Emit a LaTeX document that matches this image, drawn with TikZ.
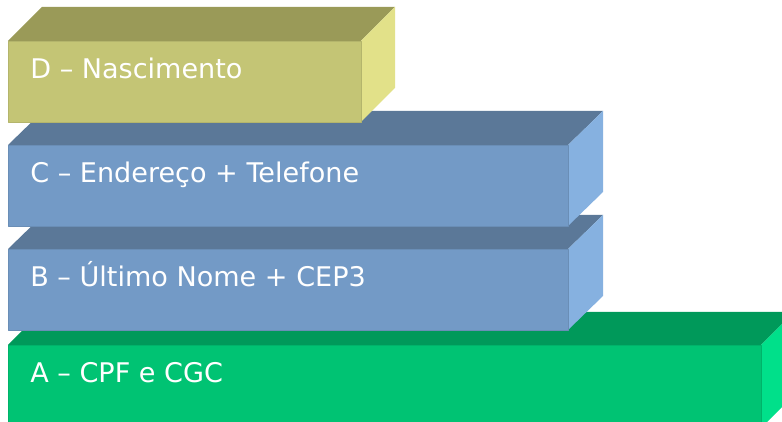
\documentclass[tikz,border=0pt]{standalone}
\usepackage{fontspec}
\setmainfont{DejaVu Sans}
\usepackage{tikz}
\definecolor{afront}{HTML}{00C373}
\definecolor{atop}{HTML}{00995A}
\definecolor{aside}{HTML}{00E08A}
\definecolor{bfront}{HTML}{739AC6}
\definecolor{btop}{HTML}{5B7898}
\definecolor{bside}{HTML}{86B1E0}
\definecolor{dfront}{HTML}{C4C575}
\definecolor{dtop}{HTML}{9A9A58}
\definecolor{dside}{HTML}{E2E189}
\tikzstyle{face} = [line width=0.4pt, line join=round]
\tikzstyle{afaceF} = [face, fill=afront, draw=afront!92!black]
\tikzstyle{bfaceF} = [face, fill=bfront, draw=bfront!92!black]
\tikzstyle{dfaceF} = [face, fill=dfront, draw=dfront!92!black]
\tikzstyle{caption} = [anchor=base west, inner sep=0pt, text=white, font=\fontsize{15.4}{18}\selectfont]

\begin{document}
\begin{tikzpicture}[x=0.02cm, y=-0.02cm]
\useasboundingbox (0,0) rectangle (782,422);
\clip (0,0) rectangle (782,422);

\fill [atop] (8,345) -- (41,312) -- (794,312) -- (761,345) -- cycle;
\fill [aside] (761,345) -- (794,312) -- (794,395) -- (761,428) -- cycle;
\filldraw [afaceF] (8,345) rectangle (761,430);
\node (a) [caption] at (30,383) {A – CPF e CGC};

\fill [btop] (8,249) -- (43,215) -- (603,215) -- (568,249) -- cycle;
\fill [bside] (568,249) -- (603,215) -- (603,296) -- (568,330) -- cycle;
\filldraw [bfaceF] (8,249) rectangle (568,330);
\node (b) [caption] at (30,287) {B – Último Nome + CEP3};

\fill [btop] (8,145) -- (43,111) -- (603,111) -- (568,145) -- cycle;
\fill [bside] (568,145) -- (603,111) -- (603,192) -- (568,226) -- cycle;
\filldraw [bfaceF] (8,145) rectangle (568,226);
\node (c) [caption] at (30,183) {C – Endereço + Telefone};

\fill [dtop] (8,41) -- (42,7) -- (395,7) -- (361,41) -- cycle;
\fill [dside] (361,41) -- (395,7) -- (395,88) -- (361,122) -- cycle;
\filldraw [dfaceF] (8,41) rectangle (361,122);
\node (d) [caption] at (30,79) {D – Nascimento};

\end{tikzpicture}
\end{document}
